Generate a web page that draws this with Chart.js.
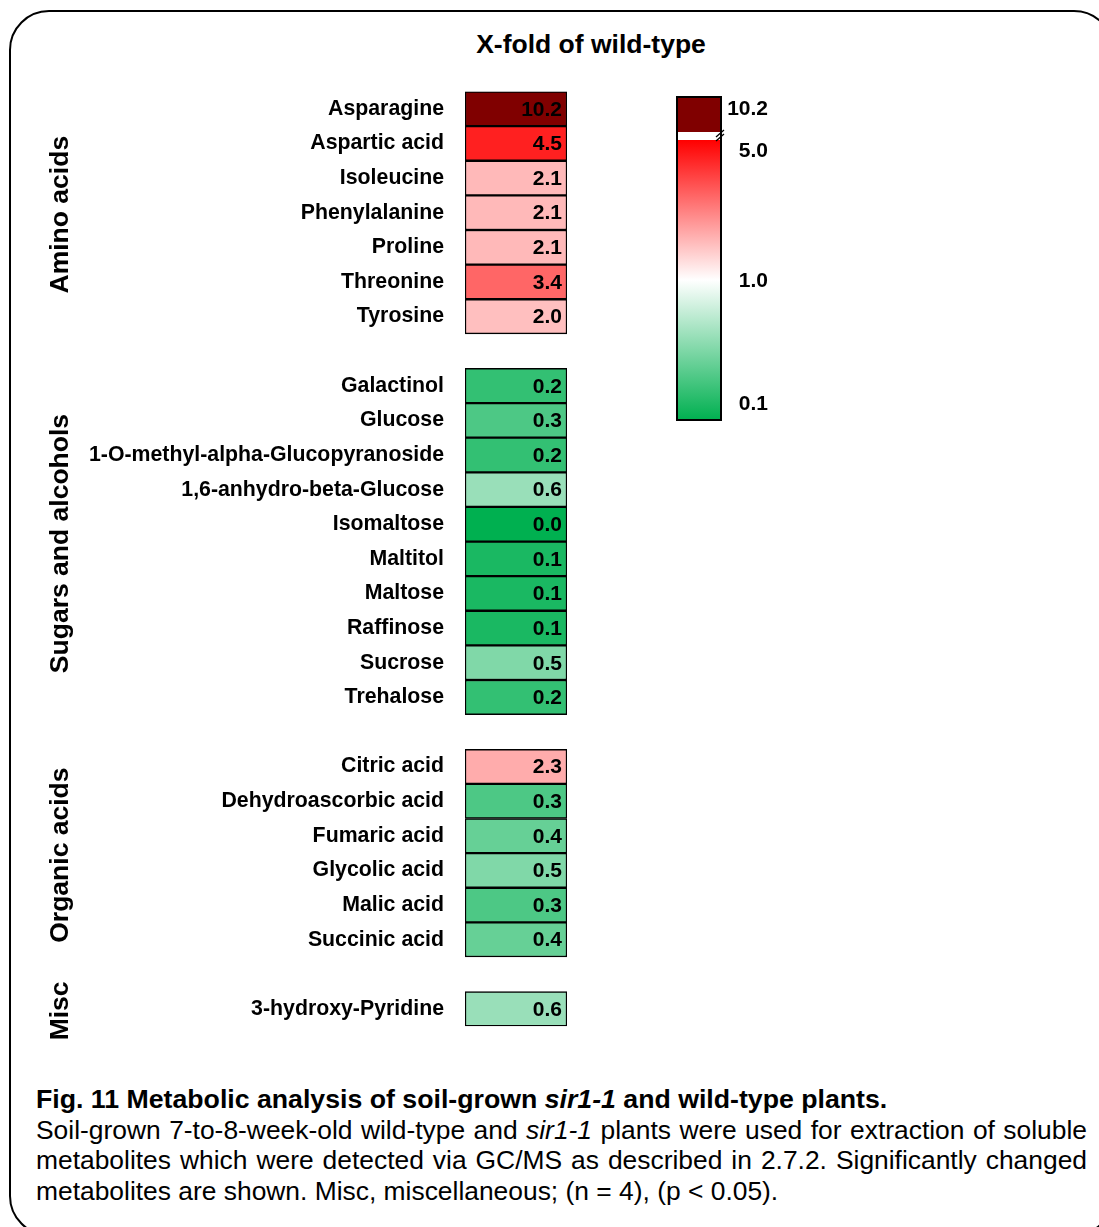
<!DOCTYPE html>
<html>
<head>
<meta charset="utf-8">
<script src="https://cdn.jsdelivr.net/npm/chart.js@4.4.1/dist/chart.umd.min.js"></script>
<style>
  html, body { margin:0; padding:0; background:#fff; }
  body { width:1099px; height:1227px; position:relative; overflow:hidden; font-family:"Liberation Sans", Arial, sans-serif; }
  #frame { position:absolute; left:9px; top:10px; width:1105px; height:1226px; border:2px solid #000; border-radius:40px; box-sizing:border-box; }
  #title { position:absolute; left:391px; width:400px; top:27px; text-align:center; font-weight:bold; font-size:26.5px; line-height:34px; }
  #chartWrap { position:absolute; left:0; top:0; }
  #caption { position:absolute; left:36px; top:1084px; width:1051px; font-size:26.4px; line-height:30.5px; color:#000; }
  #caption div { white-space:nowrap; }
  #caption .b { font-weight:bold; font-size:26.7px; }
  #caption .j { text-align:justify; text-align-last:justify; }
</style>
</head>
<body>
<div id="frame"></div>
<div id="title">X-fold of wild-type</div>
<div id="chartWrap"><canvas id="c" width="1099" height="1060"></canvas></div>
<div id="caption">
  <div class="b">Fig. 11 Metabolic analysis of soil-grown <i>sir1-1</i> and wild-type plants.</div>
  <div class="j">Soil-grown 7-to-8-week-old wild-type and <i>sir1-1</i> plants were used for extraction of soluble</div>
  <div class="j">metabolites which were detected via GC/MS as described in 2.7.2. Significantly changed</div>
  <div>metabolites are shown. Misc, miscellaneous; (n = 4), (p &lt; 0.05).</div>
</div>
<script>
// ---- data ----
const groupNames = ['Amino acids', 'Sugars and alcohols', 'Organic acids', 'Misc'];
const aminoNames = ['Asparagine', 'Aspartic acid', 'Isoleucine', 'Phenylalanine', 'Proline', 'Threonine', 'Tyrosine'];
const aminoValues = [10.2, 4.5, 2.1, 2.1, 2.1, 3.4, 2.0];
const sugarNames = ['Galactinol', 'Glucose', '1-O-methyl-alpha-Glucopyranoside', '1,6-anhydro-beta-Glucose', 'Isomaltose', 'Maltitol', 'Maltose', 'Raffinose', 'Sucrose', 'Trehalose'];
const sugarValues = [0.2, 0.3, 0.2, 0.6, 0.0, 0.1, 0.1, 0.1, 0.5, 0.2];
const organicNames = ['Citric acid', 'Dehydroascorbic acid', 'Fumaric acid', 'Glycolic acid', 'Malic acid', 'Succinic acid'];
const organicValues = [2.3, 0.3, 0.4, 0.5, 0.3, 0.4];
const miscNames = ['3-hydroxy-Pyridine'];
const miscValues = [0.6];
const legendTicks = ['10.2', '5.0', '1.0', '0.1'];

// ---- build rows (blank row between groups) ----
const groups = [[aminoNames, aminoValues], [sugarNames, sugarValues], [organicNames, organicValues], [miscNames, miscValues]];
const labels = [], values = [], groupRange = [];
groups.forEach((g, gi) => {
  if (gi > 0) { labels.push(' '.repeat(gi)); values.push(null); }
  const start = labels.length;
  g[0].forEach((n, i) => { labels.push(n); values.push(g[1][i]); });
  groupRange.push([start, labels.length - 1]);
});

function mix(a, b, t) {
  return 'rgb(' + a.map((v, i) => Math.round(v + (b[i] - v) * t)).join(',') + ')';
}
function colorFor(v) {
  if (v >= 5) return '#800000';
  if (v >= 1) return mix([255, 255, 255], [255, 0, 0], Math.min(1, (v - 1) / 4));
  return mix([0, 176, 80], [255, 255, 255], Math.max(0, v));
}

const FONT = '"Liberation Sans", Arial, sans-serif';
Chart.defaults.font.family = FONT;
Chart.defaults.color = '#000';

const cellText = {
  id: 'cellText',
  afterDatasetsDraw(chart) {
    const ctx = chart.ctx;
    const meta = chart.getDatasetMeta(0);
    ctx.save();
    ctx.font = 'bold 21px ' + FONT;
    ctx.fillStyle = '#000';
    ctx.textAlign = 'right';
    ctx.textBaseline = 'middle';
    meta.data.forEach((el, i) => {
      if (values[i] === null) return;
      ctx.fillText(values[i].toFixed(1), el.x - 5, el.y + 1);
    });
    // group labels
    const ys = chart.scales.y;
    ctx.font = 'bold 26.5px ' + FONT;
    ctx.textAlign = 'center';
    groupRange.forEach((r, gi) => {
      const yc = (ys.getPixelForValue(r[0]) + ys.getPixelForValue(r[1])) / 2;
      ctx.save();
      ctx.translate(61, yc + 2);
      ctx.rotate(-Math.PI / 2);
      ctx.fillText(groupNames[gi], 0, 0);
      ctx.restore();
    });
    ctx.restore();
  }
};

const colorBar = {
  id: 'colorBar',
  afterDraw(chart) {
    const ctx = chart.ctx;
    const x = 677, w = 44, top = 97, bot = 420;
    ctx.save();
    ctx.fillStyle = '#800000';
    ctx.fillRect(x, top, w, 35);
    ctx.fillStyle = '#fff';
    ctx.fillRect(x, 132, w, 8);
    const g = ctx.createLinearGradient(0, 140, 0, bot);
    g.addColorStop(0, '#FF0000');
    g.addColorStop(0.5, '#FFFFFF');
    g.addColorStop(1, '#00B050');
    ctx.fillStyle = g;
    ctx.fillRect(x, 140, w, bot - 140);
    ctx.lineWidth = 2;
    ctx.strokeStyle = '#000';
    ctx.strokeRect(x, top, w, bot - top);
    // break mark
    ctx.lineWidth = 1.3;
    ctx.beginPath();
    ctx.moveTo(716, 137); ctx.lineTo(724, 130);
    ctx.moveTo(716, 141); ctx.lineTo(724, 134);
    ctx.stroke();
    ctx.font = 'bold 21px ' + FONT;
    ctx.fillStyle = '#000';
    ctx.textAlign = 'right';
    ctx.textBaseline = 'middle';
    const ty = [108, 150, 280, 403];
    legendTicks.forEach((t, i) => ctx.fillText(t, 768, ty[i] + 1));
    ctx.restore();
  }
};

new Chart(document.getElementById('c'), {
  type: 'bar',
  data: {
    labels: labels,
    datasets: [{
      data: values.map(v => v === null ? null : [0, 1]),
      backgroundColor: values.map(v => v === null ? 'rgba(0,0,0,0)' : colorFor(v)),
      borderColor: '#000',
      borderWidth: 1.5,
      borderSkipped: false,
      barPercentage: 1,
      categoryPercentage: 1
    }]
  },
  options: {
    indexAxis: 'y',
    responsive: false,
    animation: false,
    layout: { padding: { top: 91.5, bottom: 29.5, left: 0, right: 532 } },
    plugins: { legend: { display: false }, tooltip: { enabled: false }, title: { display: false } },
    scales: {
      x: { display: false, min: 0, max: 1 },
      y: {
        type: 'category',
        offset: true,
        grid: { display: false, drawTicks: false },
        border: { display: false },
        ticks: { font: { size: 21.3, weight: 'bold' }, color: '#000', padding: 21, autoSkip: false },
        afterFit(scale) { scale.width = 465; }
      }
    }
  },
  plugins: [cellText, colorBar]
});
</script>
</body>
</html>
